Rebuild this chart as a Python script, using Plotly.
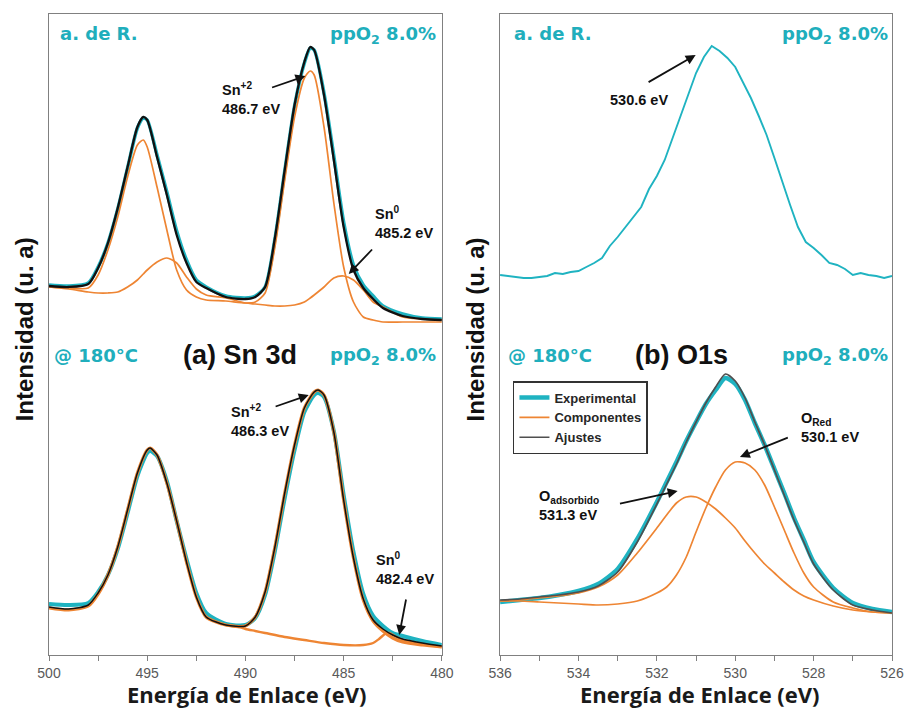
import plotly.graph_objects as go

# ---------------- DATA (arbitrary intensity units) ----------------
# Sn 3d, as-received ("a. de R."), upper spectrum
sn_top_ev = [500, 499, 498, 497.5, 497, 496.5, 496, 495.5, 495.2, 495, 494.5, 494, 493.5, 493,
             492.5, 492, 491, 490, 489.5, 489, 488.5, 488, 487.5, 487, 486.7, 486.5, 486, 485.5,
             485, 484.5, 484, 483.5, 483, 482, 481, 480]
sn_top_exp = [370, 369, 372, 388, 412, 446, 487, 527, 537, 535, 500, 463, 424, 395, 375, 368, 359,
              357, 359, 368, 416, 484, 549, 592, 607, 605, 562, 499, 433, 390, 370, 359, 349, 341,
              337, 336]
sn_top_fit = [369, 368, 371, 387, 412, 447, 488, 528, 538, 535, 498, 460, 420, 392, 373, 367, 358,
              356, 358, 368, 417, 485, 550, 593, 608, 605, 560, 495, 428, 385, 367, 356, 347, 339,
              336, 335]
sn_top_sn2 = [368, 367, 367, 380, 405, 438, 478, 510, 515, 508, 468, 425, 385, 365, 358, 355, 354,
              352, 353, 362, 408, 475, 538, 577, 584, 580, 528, 452, 388, 353, 338, 335, 333, 333,
              333, 333]
sn_top_sn0 = [368, 366, 363, 362, 362, 363, 368, 375, 381, 385, 393, 397, 392, 378, 366, 360, 357,
              352, 351, 350, 349, 349, 350, 353, 357, 360, 368, 377, 379, 375, 365, 353, 348, 338,
              336, 335]

# Sn 3d, @ 180 °C, lower spectrum
sn_bot_ev = [500, 499, 498, 497.5, 497, 496.5, 496, 495.5, 495, 494.85, 494.5, 494, 493.5, 493,
             492.5, 492, 491, 490, 489.5, 489, 488.5, 488, 487.5, 487, 486.5, 486.3, 486, 485.5,
             485, 484.5, 484, 483.5, 483, 482.5, 482, 481, 480]
sn_bot_exp = [51, 50, 52, 63, 80, 106, 142, 179, 202, 204, 199, 174, 134, 96, 62, 42, 31, 30, 37,
              60, 104, 157, 205, 243, 260, 262, 258, 224, 160, 103, 61, 39, 29, 22, 19, 14, 10]
sn_bot_fit = [48, 46, 50, 62, 80, 108, 145, 182, 205, 207, 200, 172, 134, 93, 58, 38, 30, 29, 38,
              63, 108, 162, 210, 247, 263, 265, 260, 223, 155, 97, 56, 35, 26, 20, 16, 12, 9]
sn_bot_sn2 = [47, 45, 49, 61, 80, 108, 145, 182, 205, 207, 200, 172, 134, 93, 58, 38, 30, 29, 38,
              63, 108, 162, 210, 247, 263, 265, 260, 223, 155, 97, 55, 34, 24, 17, 13, 10, 8]
sn_bot_sn0_ev = [491, 490.3, 490, 489.5, 489, 488, 487, 486, 485, 484, 483.5, 483.2, 482.9, 482.7,
                 482.4, 482, 481, 480]
sn_bot_sn0 = [30, 28, 26, 24, 22, 18, 15, 12, 10, 10, 12, 16, 21, 22, 19, 15, 11, 8]

# O 1s, as-received, upper spectrum (experimental only)
o_top_ev = [536.0, 535.8, 535.6, 535.4, 535.2, 535.0, 534.8, 534.6, 534.4, 534.2, 534.0, 533.8,
            533.6, 533.4, 533.2, 533.0, 532.8, 532.6, 532.4, 532.2, 532.0, 531.8, 531.6, 531.4,
            531.2, 531.0, 530.8, 530.6, 530.4, 530.2, 530.0, 529.8, 529.6, 529.4, 529.2, 529.0,
            528.8, 528.6, 528.4, 528.2, 528.0, 527.8, 527.6, 527.4, 527.2, 527.0, 526.8, 526.6,
            526.4, 526.2, 526.0]
o_top_exp = [380, 379, 378, 377, 377, 378, 379, 382, 381, 383, 384, 388, 392, 397, 409, 418, 428,
             438, 448, 466, 479, 495, 517, 540, 562, 582, 598, 609, 604, 597, 588, 572, 557, 539,
             520, 497, 473, 450, 428, 413, 407, 400, 392, 390, 386, 380, 382, 380, 379, 377, 379]

# O 1s, @ 180 °C, lower spectrum
o_bot_ev = [536, 535.5, 535, 534.5, 534, 533.5, 533, 532.5, 532, 531.75, 531.5, 531.25, 531,
            530.75, 530.5, 530.25, 530, 529.75, 529.5, 529.25, 529, 528.75, 528.5, 528.25, 528,
            527.5, 527, 526.5, 526]
o_bot_exp = [53, 55, 57, 60, 64, 71, 86, 116, 153, 173, 193, 214, 233, 251, 265, 277, 271, 255,
             232, 210, 186, 162, 137, 115, 93, 67, 52, 46, 43]
o_bot_fit = [55, 56, 58, 60, 63, 69, 83, 113, 151, 171, 191, 213, 233, 252, 268, 281, 274, 257,
             233, 210, 185, 160, 135, 113, 91, 65, 50, 45, 42]
o_bot_red = [54, 54, 53, 52, 51, 50, 51, 54, 62, 68, 80, 98, 123, 147, 168, 185, 193, 192, 185,
             170, 148, 125, 102, 82, 68, 53, 47, 43, 42]
o_bot_ads = [54, 55, 57, 59, 62, 68, 80, 102, 127, 140, 152, 158, 158, 153, 146, 137, 127, 114,
             102, 91, 82, 73, 65, 59, 55, 49, 45, 43, 42]

sn_ticks = [500, 495, 490, 485, 480]
o_ticks = [536, 534, 532, 530, 528, 526]
legend_names = ["Experimental", "Componentes", "Ajustes"]

# ---------------- STYLE ----------------
TEAL = "#1FB3C1"
TEAL_TXT = "#20AEBC"
ORANGE = "#EE8533"
BLACK = "#111111"
GRAY = "#4F4F4F"
AXC = "#808080"

L, T, W, H = 49, 14, 854, 641


def PX(px):
    return (px - L) / W


def PY(py):
    return 1 - (py - T) / H


fig = go.Figure()


def line(x, y, color, width, xa="x", ya="y", shape="spline", name=None, show=False, rank=None):
    fig.add_trace(go.Scatter(
        x=x, y=y, mode="lines", xaxis=xa, yaxis=ya,
        line=dict(color=color, width=width, shape=shape, smoothing=0.7 if shape == "spline" else None),
        name=name, showlegend=show, legendrank=rank if rank else 1000, hoverinfo="skip"))


# Sn top
line(sn_top_ev, sn_top_exp, TEAL, 3.5)
line(sn_top_ev, sn_top_sn2, ORANGE, 1.7)
line(sn_top_ev, sn_top_sn0, ORANGE, 1.7)
line(sn_top_ev, sn_top_fit, BLACK, 2.3)
# Sn bottom
line(sn_bot_ev, sn_bot_exp, TEAL, 4)
line(sn_bot_sn0_ev, sn_bot_sn0, ORANGE, 2.4)
line(sn_bot_ev, sn_bot_sn2, ORANGE, 3.2)
line(sn_bot_ev, sn_bot_fit, BLACK, 1.5)
# O top
line(o_top_ev, o_top_exp, TEAL, 1.9, "x2", "y2", shape="linear")
# O bottom
line(o_bot_ev, o_bot_exp, TEAL, 4.5, "x2", "y2", name="<b>" + legend_names[0] + "</b>", show=True, rank=1)
line(o_bot_ev, o_bot_ads, ORANGE, 1.7, "x2", "y2", name="<b>" + legend_names[1] + "</b>", show=True, rank=2)
line(o_bot_ev, o_bot_red, ORANGE, 1.7, "x2", "y2")
line(o_bot_ev, o_bot_fit, GRAY, 1.7, "x2", "y2", name="<b>" + legend_names[2] + "</b>", show=True, rank=3)

ann = []


def txt(text, px, py, size, color, family="Liberation Sans", xanchor="left", angle=0, align="left"):
    ann.append(dict(text=text, x=PX(px), y=PY(py), xref="paper", yref="paper", showarrow=False,
                    xanchor=xanchor, yanchor="middle", align=align, textangle=angle,
                    font=dict(family=family, size=size, color=color)))


def arrow(xa, ya, head, tail):
    ann.append(dict(text="", x=head[0], y=head[1], ax=tail[0], ay=tail[1], xref=xa, yref=ya,
                    axref=xa, ayref=ya, showarrow=True, arrowhead=2, arrowsize=1.1,
                    arrowwidth=1.8, arrowcolor="#111111"))


DJ = "DejaVu Sans"
for (lx, rx) in [(58, 443), (518, 901)]:
    txt("<b>a. de R.</b>", lx, 34, 18, TEAL_TXT, DJ)
    txt("<b>ppO<sub>2</sub> 8.0%</b>", rx, 35, 18, TEAL_TXT, DJ, xanchor="right")
    txt("<b>@ 180°C</b>", lx - 6, 355, 18, TEAL_TXT, DJ)
    txt("<b>ppO<sub>2</sub> 8.0%</b>", rx, 356, 18, TEAL_TXT, DJ, xanchor="right")

txt("<b>(a) Sn 3d</b>", 242, 355, 27, BLACK, xanchor="center")
txt("<b>(b) O1s</b>", 690, 355, 27, BLACK, xanchor="center")

# axis titles
txt("<b>Intensidad (u. a)</b>", 24, 329, 24, BLACK, xanchor="center", angle=-90)
txt("<b>Intensidad (u. a)</b>", 481, 329, 24, BLACK, xanchor="center", angle=-90)
txt("<b>Energía de Enlace (eV)</b>", 250, 694, 22, "#1a1a1a", "Open Sans", xanchor="center")
txt("<b>Energía de Enlace (eV)</b>", 708, 694, 22, "#1a1a1a", "Open Sans", xanchor="center")

# peak labels
LF = 14.5
txt("<b>Sn<sup>+2</sup><br>486.7 eV</b>", 222, 99, LF, BLACK)
txt("<b>Sn<sup>0</sup><br>485.2 eV</b>", 377, 223, LF, BLACK)
txt("<b>Sn<sup>+2</sup><br>486.3 eV</b>", 231, 420, LF, BLACK)
txt("<b>Sn<sup>0</sup><br>482.4 eV</b>", 378, 568, LF, BLACK)
txt("<b>530.6 eV</b>", 615, 100, LF, BLACK)
txt("<b>O<sub>Red</sub><br>530.1 eV</b>", 809, 427, LF, BLACK)
txt("<b>O<sub>adsorbido</sub><br>531.3 eV</b>", 543, 505, LF, BLACK)

arrow("x", "y", (486.95, 579), (488.72, 567))
arrow("x", "y", (484.74, 381), (483.48, 407))
arrow("x", "y", (486.78, 260), (488.54, 248))
arrow("x", "y", (482.17, 20), (481.81, 57))
arrow("x2", "y2", (531.01, 600), (532.25, 572))
arrow("x2", "y2", (529.88, 198), (528.62, 218))
arrow("x2", "y2", (531.47, 164), (532.98, 151))

xcommon = dict(showline=True, linecolor=AXC, linewidth=1, mirror=True, showgrid=False,
               zeroline=False, ticks="outside", ticklen=5, tickcolor=AXC,
               tickfont=dict(family="Liberation Sans", size=14, color="#595959"))
ycommon = dict(showline=True, linecolor=AXC, linewidth=1, mirror=True, showgrid=False,
               zeroline=False, showticklabels=False, ticks="", range=[0, 641])

fig.update_layout(
    width=916, height=709,
    margin=dict(l=L, r=916 - 903, t=T, b=709 - 655),
    paper_bgcolor="white", plot_bgcolor="white",
    xaxis=dict(domain=[0, PX(447)], range=[500, 480], tickmode="array", tickvals=sn_ticks,
               minor=dict(dtick=2.5, tick0=480, ticks="outside", ticklen=5, tickcolor=AXC),
               **xcommon),
    yaxis=dict(anchor="x", **ycommon),
    xaxis2=dict(domain=[PX(506), 1], range=[536, 526], tickmode="array", tickvals=o_ticks,
                minor=dict(dtick=1, tick0=526, ticks="outside", ticklen=5, tickcolor=AXC),
                anchor="y2", **xcommon),
    yaxis2=dict(anchor="x2", **ycommon),
    legend=dict(x=PX(519), y=PY(381), xanchor="left", yanchor="top", bgcolor="white",
                bordercolor="#333333", borderwidth=1.5, tracegroupgap=0,
                font=dict(family="Liberation Sans", size=13, color="#262626"),
                itemwidth=30),
    annotations=ann,
    showlegend=True,
)

fig.write_html("out.html")
